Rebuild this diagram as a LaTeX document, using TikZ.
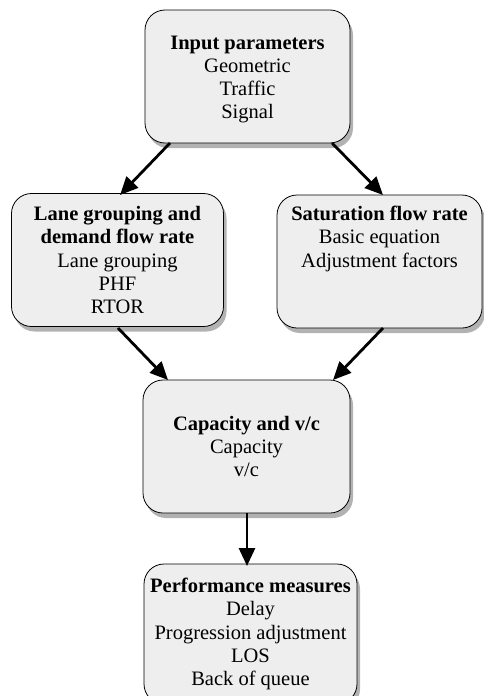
\documentclass[tikz,border=0pt]{standalone}
\usepackage{fontspec}
\setmainfont{Liberation Serif}
\usetikzlibrary{arrows.meta,shadows}
\begin{document}
\begin{tikzpicture}[x=1pt,y=-1pt,
  box/.style={draw=black, line width=0.8pt, rounded corners=20pt, fill=gray!13,
    drop shadow={shadow xshift=3pt, shadow yshift=-5pt, fill=black, opacity=0.3},
    align=center, inner sep=0pt, font=\fontsize{20.5}{23.3}\selectfont},
  txt/.style={align=center, inner sep=0pt, font=\fontsize{20.5}{23.3}\selectfont},
  conn/.style={line width=2.8pt, -{Triangle[length=18pt,width=16pt]}}
]
\useasboundingbox (0,0) rectangle (483,696);

\node[box, minimum width=205pt, minimum height=133pt] (inp) at (247.5,76.5) {};
\node[txt] (inptext) at (247.5,79.5)
  {\textbf{Input parameters}\\Geometric\\Traffic\\Signal};
\node[box, minimum width=212pt, minimum height=133pt] (lane) at (117.5,260)
  {\textbf{Lane grouping and}\\\textbf{demand flow rate}\\Lane grouping\\PHF\\RTOR};
\node[box, minimum width=205pt, minimum height=133pt] (sat) at (379.5,261.5) {};
\node[txt, anchor=north] (sattext) at (379.5,206)
  {\textbf{Saturation flow rate}\\Basic equation\\Adjustment factors};
\node[box, minimum width=207pt, minimum height=133pt] (cap) at (246.5,446.5)
  {\textbf{Capacity and v/c}\\Capacity\\v/c};
\node[box, minimum width=213pt, minimum height=140pt] (perf) at (250.5,634)
  {\textbf{Performance measures}\\Delay\\Progression adjustment\\LOS\\Back of queue};

\coordinate (a1) at (170,143);
\coordinate (a2) at (120,195);
\coordinate (b1) at (332,143);
\coordinate (b2) at (383,195);
\coordinate (c1) at (118,328);
\coordinate (c2) at (168,380);
\coordinate (d1) at (383,328);
\coordinate (d2) at (333,380);
\coordinate (e1) at (247,513);
\coordinate (e2) at (247,566);

\draw[conn] (a1) -- (a2);
\draw[conn] (b1) -- (b2);
\draw[conn] (c1) -- (c2);
\draw[conn] (d1) -- (d2);
\draw[conn] (e1) -- (e2);
\end{tikzpicture}
\end{document}
